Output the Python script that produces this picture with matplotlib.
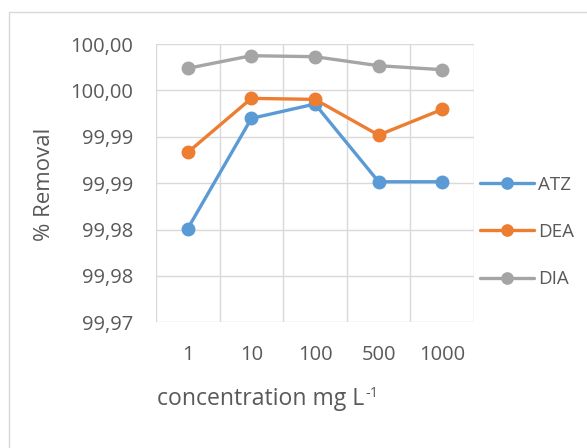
import matplotlib
matplotlib.use("Agg")
import matplotlib.pyplot as plt
from matplotlib.patches import Rectangle

plt.rcParams['font.family'] = ['Open Sans', 'DejaVu Sans']

categories = ['1', '10', '100', '500', '1000']
atz = [99.98011, 99.99198, 99.99353, 99.98515, 99.98515]
dea = [99.98832, 99.99414, 99.99403, 99.99018, 99.99295]
dia = [99.99738, 99.99874, 99.99863, 99.99766, 99.99723]
series_names = ['ATZ', 'DEA', 'DIA']
series_colors = ['#5B9BD5', '#ED7D31', '#A5A5A5']
y_ticks = [99.970, 99.975, 99.980, 99.985, 99.990, 99.995, 100.000]
y_tick_labels = ['99,97', '99,98', '99,98', '99,99', '99,99', '100,00', '100,00']

TEXT = '#595959'
GRID = '#D9D9D9'
W, H = 587, 448
fig = plt.figure(figsize=(W / 100, H / 100), dpi=100)
fig.patch.set_facecolor('white')


def px(x, y):
    """Pixel position (from top-left) to figure fraction."""
    return x / W, 1 - y / H


# chart-area frame
fig.patches.append(Rectangle((9 / W, -0.02), 1.1, (H - 12) / H + 0.02,
                             transform=fig.transFigure, fill=False,
                             edgecolor=GRID, linewidth=1.0))

ax = fig.add_axes([156 / W, (H - 322.3) / H, 318 / W, 278.3 / H])
x = list(range(len(categories)))
for vals, name, col in zip([atz, dea, dia], series_names, series_colors):
    ax.plot(x, vals, color=col, linewidth=2.4, marker='o', markersize=9,
            label=name, solid_capstyle='round', zorder=3)

ax.set_xlim(-0.5, len(categories) - 0.5)
ax.set_ylim(99.970, 100.000)
ax.set_yticks(y_ticks)
ax.set_yticklabels(y_tick_labels)
ax.set_xticks(x)
ax.set_xticklabels(categories)
ax.set_xticks([i - 0.5 for i in range(len(categories) + 1)], minor=True)
ax.grid(False)
ax.grid(True, which='major', axis='y', color=GRID, linewidth=1.0)
ax.grid(True, which='minor', axis='x', color=GRID, linewidth=1.0)
ax.set_axisbelow(True)
for s in ax.spines.values():
    s.set_visible(False)
ax.tick_params(axis='both', which='both', length=0, labelsize=14.5,
               labelcolor=TEXT)
ax.tick_params(axis='y', pad=16.5)
ax.tick_params(axis='x', pad=16)

# axis titles
fig.text(*px(44, 184), '% Removal', rotation=90, ha='center', va='center',
         fontsize=16, color=TEXT)
xl = fig.text(*px(157, 405), 'concentration mg L', ha='left', va='baseline',
              fontsize=16.6, color=TEXT)
fig.canvas.draw()
bb = xl.get_window_extent(renderer=fig.canvas.get_renderer())
fig.text((bb.x1 + 1) / W, 1 - 397 / H, '-1', ha='left', va='baseline',
         fontsize=10.5, color=TEXT)

leg = ax.legend(loc='center left', bbox_to_anchor=px(480, 232),
                bbox_transform=fig.transFigure, frameon=False, fontsize=13.5,
                handlelength=2.9, handletextpad=0.2, labelspacing=1.55,
                borderpad=0, borderaxespad=0, markerscale=0.9)
for t in leg.get_texts():
    t.set_color(TEXT)

fig.savefig('out.png', dpi=100, facecolor='white')
